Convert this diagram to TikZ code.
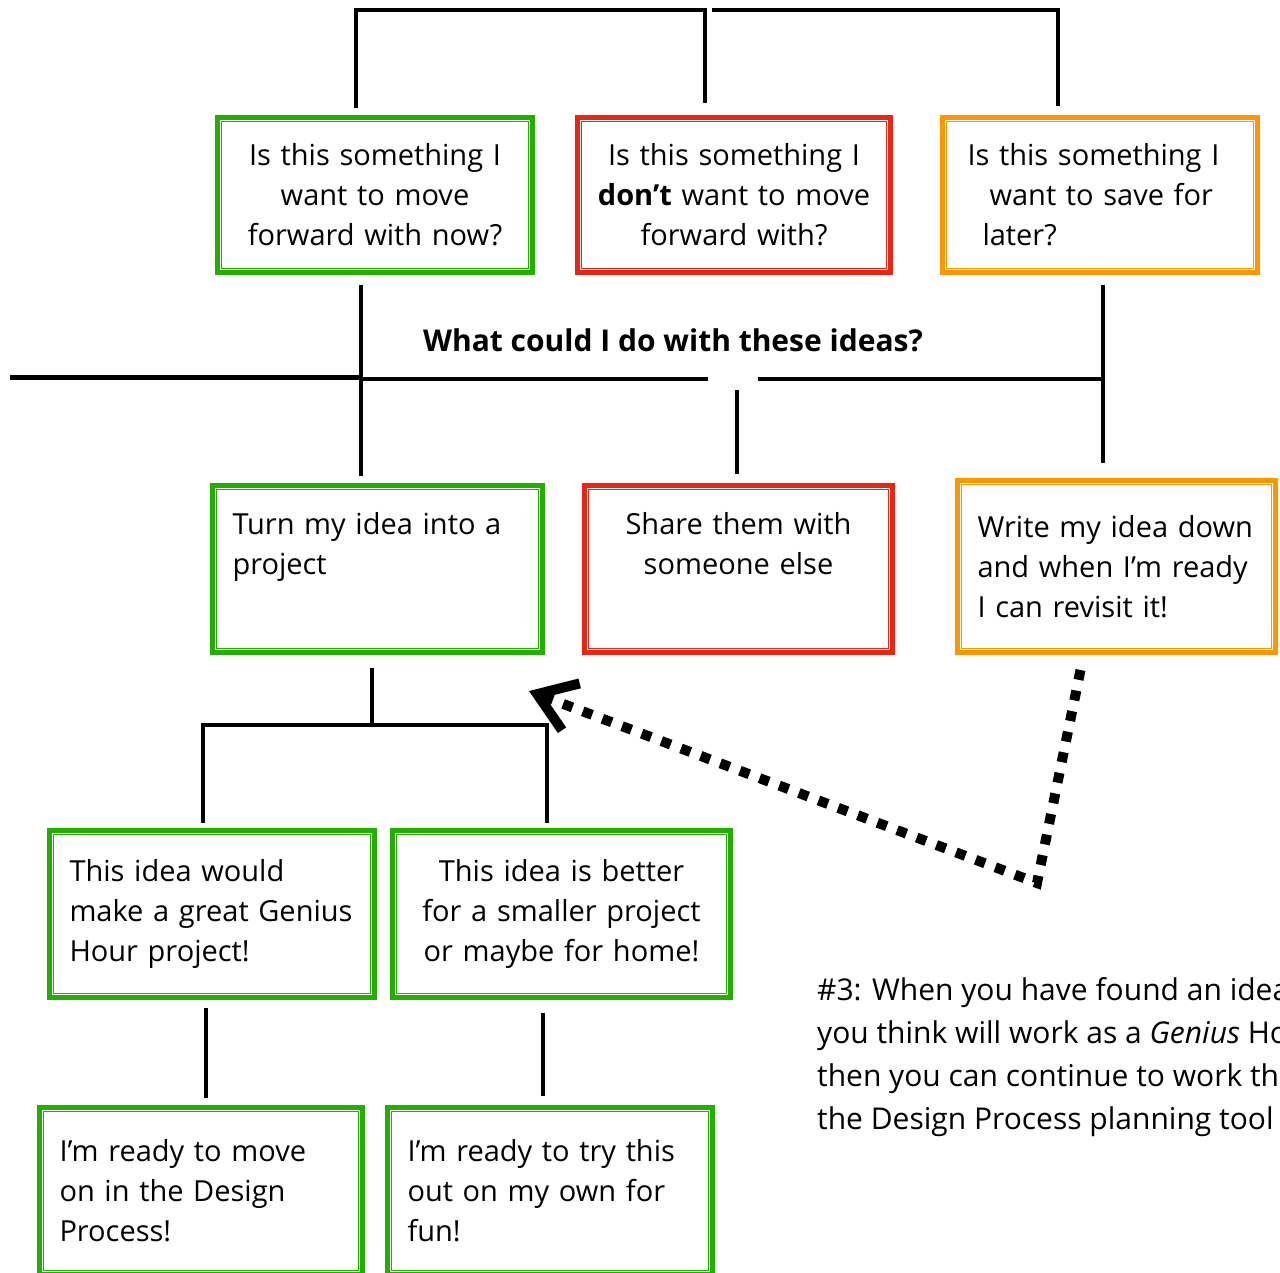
\documentclass[tikz,border=0pt]{standalone}
\usepackage{fontspec}
\setmainfont{Open Sans}
\usepackage{xcolor}
\usetikzlibrary{arrows.meta,positioning}
\definecolor{ideagreen}{RGB}{34,176,0}
\definecolor{ideared}{RGB}{236,36,18}
\definecolor{ideaorange}{RGB}{255,150,0}
\tikzset{%
	idea/.style     = {draw=#1, rectangle, line width=5pt, inner xsep=20pt, inner ysep=0pt, font=\fontsize{29}{40}\selectfont,
	                   append after command={\pgfextra{\draw[draw=#1,line width=1.5pt] ([shift={(6.5pt,-6.5pt)}]\tikzlastnode.north west) rectangle ([shift={(-6.5pt,6.5pt)}]\tikzlastnode.south east);}}},
	gbox/.style     = {idea=ideagreen},
	rbox/.style     = {idea=ideared},
	obox/.style     = {idea=ideaorange},
	conn/.style     = {line width=4pt},
	pointer/.style  = {line width=10pt, dash pattern=on 10pt off 11pt, -{Straight Barb[length=36pt,width=50pt,line width=10pt]}},
	heading/.style  = {font=\fontsize{30}{36}\selectfont\bfseries},
	note/.style     = {font=\fontsize{30}{43}\selectfont, align=left, inner sep=0pt},
}
\begin{document}
\begin{tikzpicture}[x=1pt,y=-1pt]
	\useasboundingbox (0,0) rectangle (1280,1272);
	\clip (0,0) rectangle (1280,1272);
	
	% question boxes
	\node[gbox, text width=275pt, minimum height=155pt, align=center] (q1) at (375,195) {Is this something I\\ want to move\\ forward with now?};
	\node[rbox, text width=273pt, minimum height=155pt, align=center] (q2) at (734,195) {Is this something I\\ \textbf{don't} want to move\\ forward with?};
	\node[obox, text width=275pt, minimum height=155pt, align=left] (q3) at (1100,195) {\hspace*{5pt}Is this something I\\ \hspace*{27pt}want to save for\\ \hspace*{20pt}later?};
	
	% what to do with them
	\node[rbox, text width=268pt, minimum height=167pt, align=center] (a2) at (738.5,569) {Share them with\\ someone else\\ \strut};
	\node[gbox, text width=290pt, minimum height=167pt, align=left] (a1) at (377.5,569) {Turn my idea into a\\ project\\ \strut};
	\node[obox, text width=278pt, minimum height=172pt, align=left] (a3) at (1116.5,566.5) {Write my idea down\\ and when I'm ready\\ I can revisit it!};
	
	% project size
	\node[gbox, text width=285pt, minimum height=167pt, align=left] (p1) at (212,914) {This idea would\\ make a great Genius\\ Hour project!};
	\node[gbox, text width=298pt, minimum height=167pt, align=center] (p2) at (561.5,914) {This idea is better\\ for a smaller project\\ or maybe for home!};
	
	% ready
	\node[gbox, text width=283pt, minimum height=167pt, align=left] (r1) at (201,1191) {I'm ready to move\\ on in the Design\\ Process!};
	\node[gbox, text width=285pt, minimum height=167pt, align=left] (r2) at (550,1191) {I'm ready to try this\\ out on my own for\\ fun!};
	
	\node[heading] (ask) at (673,340) {What could I do with these ideas?};
	
	% top bracket
	\coordinate (topL) at (356,10);
	\coordinate (topM) at (705,10);
	\coordinate (topM2) at (712,10);
	\coordinate (topR) at (1058,10);
	\draw[conn, shorten <=7.5pt, shorten >=12.5pt] (q1.north -| topL) -- (topL) -- (topM) -- (q2.north -| topM);
	\draw[conn, shorten >=9.5pt] (topM2) -- (topR) -- (q3.north -| topR);
	
	% middle bracket
	\coordinate (midL) at (10,377);
	\coordinate (midC) at (361,379);
	\coordinate (gapL) at (708,379);
	\coordinate (gapR) at (758,379);
	\coordinate (midR) at (1103,379);
	\coordinate (midM) at (737,390);
	\draw[conn, shorten <=9.5pt, shorten >=7.5pt] (q1.south -| midC) -- (a1.north -| midC);
	\draw[conn, line width=5pt] (midL) -- (midL -| midC);
	\draw[conn] (midC) -- (gapL);
	\draw[conn] (gapR) -- (midR);
	\draw[conn, shorten <=9.5pt, shorten >=15.5pt] (q3.south -| midR) -- (a3.north -| midR);
	\draw[conn, shorten >=9.5pt] (midM) -- (a2.north -| midM);
	
	% lower bracket
	\coordinate (split) at (372,725);
	\coordinate (splitL) at (203,725);
	\coordinate (splitR) at (547,725);
	\coordinate (lowL) at (206,1050);
	\coordinate (lowR) at (543,1050);
	\draw[conn, shorten <=12.5pt] (a1.south -| split) -- (split);
	\draw[conn, shorten <=5.5pt, shorten >=5.5pt] (p1.north -| splitL) -- (splitL) -- (splitR) -- (p2.north -| splitR);
	\draw[conn, shorten <=7.5pt, shorten >=7.5pt] (p1.south -| lowL) -- (r1.north -| lowL);
	\draw[conn, shorten <=12.5pt, shorten >=9.5pt] (p2.south -| lowR) -- (r2.north -| lowR);
	
	% back to project
	\coordinate (turn) at (1037,883);
	\draw[pointer] ([xshift=-36pt,yshift=-15pt]a3.south) -- (turn) -- ([xshift=-16pt,yshift=-36pt]a1.south east);
	
	\node[note, anchor=north west] (hint) at (817,977) {\#3: When you have found an idea\\ you think will work as a \textit{Genius} Hour\\ then you can continue to work through\\ the Design Process planning tool};
\end{tikzpicture}
\end{document}
